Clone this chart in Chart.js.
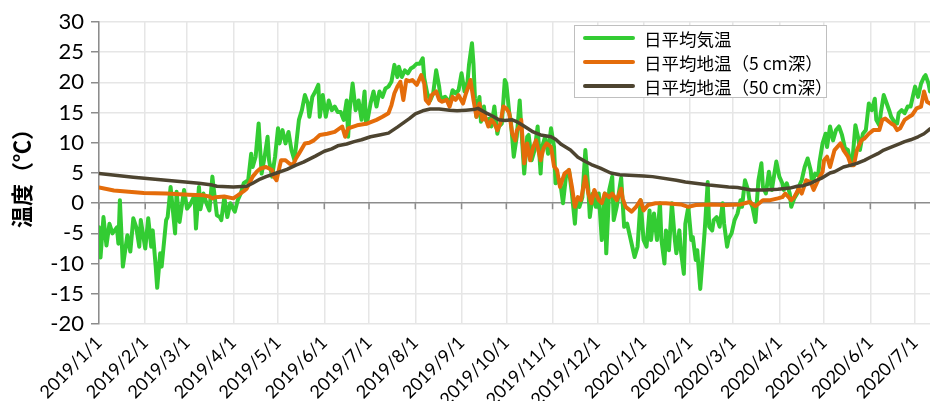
<!DOCTYPE html>
<html>
<head>
<meta charset="utf-8">
<script src="https://cdn.jsdelivr.net/npm/chart.js@4.4.1/dist/chart.umd.min.js"></script>
<style>
    html, body { margin: 0; padding: 0; background: #fff; }
    #wrap { position: relative; width: 931px; height: 401px; }
    #legend {
        position: absolute; left: 574px; top: 25px; width: 253px; height: 73px;
        box-sizing: border-box; border: 1.5px solid #bfbfbf; background: #fff;
        font-family: "Noto Sans CJK JP", sans-serif; font-size: 17.5px; color: #000;
    }
    .item { position: absolute; left: 8px; height: 24px; display: flex; align-items: center; white-space: nowrap; }
    .swatch { width: 52px; height: 4px; border-radius: 2px; margin-right: 9px; }
</style>
</head>
<body>
<div id="wrap">
    <canvas id="temp-chart" width="931" height="401"></canvas>
    <div id="legend"></div>
</div>
<script>
// x values are days counted from 2019/1/1
const airDays = [
    0, 1, 3, 5, 7, 9, 12, 13, 14, 16, 19, 21, 23, 25, 27, 28, 31, 33, 35, 36,
    38, 39, 41, 42, 45, 46, 48, 51, 52, 54, 57, 59, 61, 64, 65, 67, 68, 70, 72, 74,
    76, 77, 79, 81, 82, 84, 86, 88, 91, 93, 95, 97, 100, 102, 103, 105, 107, 109, 111, 113,
    114, 116, 118, 120, 121, 123, 125, 127, 129, 131, 132, 134, 136, 138, 140, 141, 143, 145, 147, 148,
    150, 152, 154, 156, 158, 160, 162, 164, 166, 167, 168, 170, 172, 174, 176, 178, 179, 180, 182, 184,
    186, 188, 190, 192, 194, 196, 198, 200, 201, 203, 205, 207, 209, 211, 213, 215, 217, 218, 220, 222,
    224, 226, 228, 229, 232, 234, 235, 237, 239, 241, 243, 245, 247, 248, 250, 251, 252, 253, 255, 256,
    258, 259, 262, 263, 265, 267, 268, 270, 272, 273, 275, 276, 278, 280, 282, 283, 285, 287, 288, 290,
    292, 294, 296, 297, 299, 301, 303, 305, 306, 309, 311, 313, 315, 317, 319, 320, 322, 324, 326, 328,
    329, 331, 333, 335, 337, 339, 340, 342, 344, 345, 347, 350, 352, 354, 356, 359, 361, 363, 365, 367,
    369, 370, 372, 374, 376, 377, 379, 380, 382, 384, 386, 387, 389, 390, 392, 393, 395, 397, 398, 400,
    401, 403, 405, 406, 408, 409, 411, 412, 414, 416, 418, 419, 421, 422, 424, 426, 428, 430, 431, 433,
    435, 436, 438, 440, 442, 444, 445, 447, 449, 451, 452, 454, 456, 458, 459, 461, 463, 464, 466, 468,
    469, 471, 473, 475, 477, 478, 480, 482, 483, 485, 487, 488, 490, 492, 494, 496, 498, 500, 502, 504,
    505, 507, 509, 510, 512, 514, 516, 518, 520, 521, 523, 524, 526, 528, 530, 531, 533, 535, 536, 538,
    540, 542, 544, 546, 547, 549, 551, 553, 554, 556, 557
];
const airTemp = [
    -4, -9, -2.3, -7, -3.4, -5, -4, -6.7, 0.5, -10.5, -5.3, -8, -2.5, -4, -7.2, -2.8, -7.5, -2.5, -7.2, -4.5,
    -10.5, -14, -8.3, -10.5, -2.8, -2.3, 2.7, -5, 1.9, -3.1, 2.2, -0.9, -0.3, 1.3, -4.2, 2.7, -1, 1.6, 0, -1.2,
    4.4, 2.2, -2, -2.3, -2.8, 1, -2.3, 0, -1.4, 0.5, 1.6, 3.3, 3.8, 8.2, 6, 7.7, 13.2, 4.9, 7.7, 11,
    7.1, 4.4, 7.7, 12.4, 9.9, 12.1, 9.9, 11.8, 8.8, 7.1, 9.3, 13.8, 15.4, 17.9, 16.5, 14.3, 17.6, 18.5, 19.6, 14.3,
    17.9, 14.3, 17, 15.4, 16, 15.1, 15.1, 13.8, 17, 11, 15.4, 19.8, 15.4, 17, 13.8, 18.5, 13.2, 13.8, 16.5, 18.5,
    16, 18.5, 17.6, 19, 19.3, 20.1, 22.9, 20.9, 22.6, 20.9, 22, 21.5, 22.3, 22.6, 23.1, 23.1, 24, 20.7, 18.2, 17,
    18.2, 22, 19.3, 17.3, 17.6, 17, 16.5, 18.7, 18.2, 18.7, 21.5, 18.5, 20.1, 22.9, 26.5, 23.1, 17.3, 14.3, 17.6, 13.5,
    16, 13.8, 14, 12.7, 16, 11.5, 12.7, 13.2, 20.4, 19.8, 14.9, 13.8, 7.7, 11, 17, 12.7, 4.9, 11, 11.3, 7.1,
    8.8, 12.7, 4.9, 9.3, 11, 8.2, 12.4, 9.3, 3.3, 3.8, 0, 4.4, 5.5, 1.6, -3.4, 0.5, -0.6, 1, 8.8, 2.2,
    -2.3, 1.6, -0.6, 1.6, -6.1, 1.6, -8.3, 2.2, 4.4, -2.8, -0.6, 4.2, -3.9, -3.4, -5.6, -8.9, -7.2, 0.5, -6.1, -7.2,
    -1.2, -6.1, -1.7, -6.1, 0, -6.1, -10, -4.5, -7.8, 0, -6.1, -8.3, -4.5, -7.8, -11.7, -3.4, -0.6, -6.1, -5.6, -9.4,
    -7.8, -14.2, -7.8, -4.5, 3.5, -3.9, -4.5, -2.8, -2.3, -3.9, 0, -3.4, -7.2, -5.9, -5, -2.8, -1.7, 0.5, -0.6, 3.8,
    2.2, 0.5, -0.6, -3.1, 3.8, 6.6, 2.7, 1.6, 5.2, 2.2, 3.8, 6.9, 4.4, 3.3, 2.2, 3.3, 1.6, -0.6, 0.8, 1.6,
    2.7, 3.8, 6, 7.4, 5.5, 3.3, 4.9, 4.6, 6.9, 9.9, 11.5, 9.3, 12.7, 10.4, 12.1, 12.7, 11.3, 9.1, 8.8, 6.3,
    7.1, 12.9, 10.7, 8.8, 11.5, 12.1, 16.5, 15.4, 17.3, 13.8, 12.9, 14.9, 17.9, 16.5, 15.1, 14.3, 13.5, 13.2, 14.9, 15.4,
    14.9, 16, 16, 18.2, 19.3, 17.6, 19.8, 20.9, 21.2, 19.8, 18.5
];

const soil5Days = [
    0, 10, 20, 30, 45, 60, 70, 74, 76, 78, 84, 90, 93, 97, 99, 103, 106, 108, 112, 116,
    117, 119, 122, 125, 128, 130, 132, 134, 138, 141, 144, 148, 153, 158, 163, 165, 167, 173, 180, 186,
    190, 194, 196, 198, 200, 202, 204, 206, 208, 210, 213, 216, 218, 219, 221, 223, 226, 228, 230, 233,
    235, 237, 239, 241, 244, 246, 248, 249, 251, 253, 255, 257, 258, 261, 263, 265, 267, 269, 271, 273,
    275, 277, 279, 280, 282, 283, 285, 287, 289, 291, 293, 296, 298, 300, 303, 305, 307, 309, 312, 315,
    317, 319, 321, 323, 326, 328, 330, 332, 335, 337, 339, 342, 344, 347, 350, 351, 353, 357, 360, 363,
    365, 368, 373, 380, 390, 395, 400, 410, 420, 430, 436, 440, 445, 450, 455, 458, 460, 464, 466, 469,
    471, 474, 477, 479, 482, 485, 486, 488, 490, 493, 497, 499, 502, 504, 506, 508, 511, 513, 516, 519,
    523, 525, 527, 531, 533, 535, 537, 540, 543, 545, 548, 551, 553, 555, 557
];
const soil5Temp = [
    2.6, 2.1, 1.9, 1.7, 1.6, 1.4, 1.3, 1.1, 0.8, 1.0, 1.1, 0.8, 1.3, 2.0, 2.4, 4.4, 5.3, 5.7, 6.0, 5.5,
    4.5, 3.8, 7.1, 7.1, 6.5, 6.3, 7.4, 8.2, 9.9, 10.0, 10.4, 11.3, 11.5, 11.8, 12.7, 11.0, 12.4, 12.9, 13.2, 13.8,
    14.3, 14.9, 16.2, 18.2, 19.3, 20.1, 17.1, 20.4, 20.2, 20.4, 19.6, 21.2, 19.8, 17.1, 16.5, 17.9, 18.5, 17.1, 16.8, 17.1,
    16.0, 17.6, 17.1, 17.9, 16.5, 18.2, 19.6, 20.4, 17.1, 14.3, 16.5, 13.8, 14.9, 12.7, 13.8, 13.2, 12.1, 13.2, 16.0, 15.7,
    14.9, 11.5, 10.4, 12.0, 12.7, 13.8, 6.6, 9.9, 7.1, 9.3, 10.4, 7.1, 9.1, 9.9, 9.3, 6.1, 5.5, 2.7, 4.9, 5.5,
    2.7, -0.6, 1.0, 0.5, 4.4, 1.6, 0.0, 2.2, 0.5, 0.0, 1.6, 1.0, 1.6, 0.5, 2.4, 0.8, -0.6, -1.4, -0.6, 0.5,
    -1.2, -0.3, 0, 0, -0.2, -0.6, -0.3, -0.2, -0.3, -0.2, 0.2, -0.5, 0.5, 0.5, 0.8, 1.0, 1.6, 0.5, 1.0, 2.4,
    1.6, 3.8, 3.5, 2.2, 3.8, 5.2, 7.1, 7.7, 6.0, 8.8, 9.9, 8.8, 7.7, 6.3, 6.3, 8.8, 10.4, 10.7, 11.5, 12.1,
    12.1, 13.8, 14.0, 13.2, 12.9, 12.1, 12.4, 13.8, 14.3, 14.6, 15.7, 16.0, 18.5, 16.8, 16.5
];

const soil50Days = [
    0, 23, 45, 67, 76, 79, 90, 99, 103, 108, 112, 119, 126, 132, 137, 141, 145, 151, 156, 160,
    166, 171, 176, 182, 188, 194, 200, 204, 208, 212, 217, 222, 228, 235, 240, 246, 251, 254, 259, 264,
    268, 272, 277, 280, 284, 291, 296, 303, 306, 310, 316, 321, 326, 330, 336, 343, 349, 365, 371, 387,
    393, 409, 422, 428, 437, 446, 455, 463, 468, 472, 477, 481, 484, 490, 493, 499, 504, 508, 513, 517,
    522, 526, 531, 536, 540, 544, 549, 553, 557
];
const soil50Temp = [
    4.9, 4.3, 3.8, 3.3, 3.0, 2.8, 2.7, 2.8, 3.3, 4.0, 4.4, 5.0, 5.6, 6.3, 6.8, 7.3, 7.8, 8.6, 9.0, 9.5,
    9.8, 10.2, 10.5, 11.0, 11.3, 11.6, 12.6, 13.3, 14.0, 14.8, 15.3, 15.6, 15.6, 15.4, 15.3, 15.4, 15.5, 15.7, 15.0, 14.4,
    13.8, 13.7, 13.8, 13.5, 12.9, 11.8, 11.3, 11.0, 10.6, 9.7, 8.8, 7.6, 6.9, 6.4, 5.8, 5.0, 4.7, 4.5, 4.4, 3.8,
    3.5, 3.0, 2.7, 2.6, 2.2, 2.2, 2.3, 2.5, 2.8, 2.9, 3.3, 3.8, 4.1, 5.0, 5.2, 6.0, 6.3, 6.6, 7.1, 7.6,
    8.2, 8.8, 9.3, 9.8, 10.2, 10.5, 11.0, 11.5, 12.3
];

const seriesNames = ['日平均気温', '日平均地温（5 cm深）', '日平均地温（50 cm深）'];
const seriesColors = ['#33CC33', '#E46C0A', '#4D4430'];

const tickLabels = [
    '2019/1/1', '2019/2/1', '2019/3/1', '2019/4/1', '2019/5/1', '2019/6/1', '2019/7/1',
    '2019/8/1', '2019/9/1', '2019/10/1', '2019/11/1', '2019/12/1', '2020/1/1', '2020/2/1',
    '2020/3/1', '2020/4/1', '2020/5/1', '2020/6/1', '2020/7/1'
];
const yTicks = [-20, -15, -10, -5, 0, 5, 10, 15, 20, 25, 30];
const lastDay = 557;

// ngày tính từ 2019/1/1 cho mỗi nhãn tháng
const monthDays = tickLabels.map(s => {
    const [yy, mm, dd] = s.split('/').map(Number);
    return Math.round((Date.UTC(yy, mm - 1, dd) - Date.UTC(2019, 0, 1)) / 86400000);
});

const toPoints = (xs, ys) => xs.map((x, i) => ({ x: x, y: ys[i] }));

// vạch chia nhỏ dưới trục 0
const zeroAxisTicks = {
    id: 'zeroAxisTicks',
    beforeDatasetsDraw(chart) {
        const { ctx, scales: { x, y } } = chart;
        const y0 = y.getPixelForValue(0);
        ctx.save();
        ctx.strokeStyle = '#8c8c8c';
        ctx.lineWidth = 1.5;
        monthDays.forEach(d => {
            const px = x.getPixelForValue(d);
            ctx.beginPath();
            ctx.moveTo(px, y0);
            ctx.lineTo(px, y0 + 6);
            ctx.stroke();
        });
        ctx.restore();
    }
};

function makeDataset(i, xs, ys, width, order) {
    return {
        label: seriesNames[i],
        data: toPoints(xs, ys),
        borderColor: seriesColors[i],
        backgroundColor: seriesColors[i],
        borderWidth: width,
        borderJoinStyle: 'round',
        borderCapStyle: 'round',
        pointRadius: 0,
        tension: 0,
        order: order
    };
}

const ctx = document.getElementById('temp-chart').getContext('2d');
new Chart(ctx, {
    type: 'line',
    data: {
        datasets: [
            makeDataset(0, airDays, airTemp, 4, 3),
            makeDataset(1, soil5Days, soil5Temp, 4, 2),
            makeDataset(2, soil50Days, soil50Temp, 3.5, 1)
        ]
    },
    options: {
        responsive: false,
        animation: false,
        layout: { padding: { left: 0, right: 1, top: 22, bottom: 0 } },
        plugins: { legend: { display: false }, tooltip: { enabled: false } },
        scales: {
            x: {
                type: 'linear',
                min: 0,
                max: lastDay,
                afterBuildTicks: s => { s.ticks = monthDays.map(v => ({ value: v })); },
                afterFit: s => { s.height = 77; s.paddingRight = 0; s.paddingLeft = 0; },
                grid: { color: '#e6e6e6', lineWidth: 1.5, drawTicks: false },
                border: { display: false },
                ticks: {
                    autoSkip: false, maxRotation: 45, minRotation: 45, padding: 8,
                    color: '#000', font: { family: 'Lato', size: 18 },
                    callback: v => tickLabels[monthDays.indexOf(v)]
                }
            },
            y: {
                min: -20,
                max: 30,
                afterBuildTicks: s => { s.ticks = yTicks.map(v => ({ value: v })); },
                afterFit: s => { s.width = 99; },
                grid: {
                    color: c => (c.tick && c.tick.value === 0) ? '#8c8c8c' : '#e6e6e6',
                    lineWidth: 1.5, tickLength: 8, tickColor: '#8c8c8c'
                },
                border: { color: '#8c8c8c', width: 1.5 },
                ticks: { padding: 7, color: '#000', font: { family: 'Lato', size: 22 } },
                title: {
                    display: true, text: '温度（℃）', color: '#000',
                    font: { family: 'Noto Sans CJK JP', size: 22, weight: 'bold' },
                    padding: { top: 8, bottom: 0 }
                }
            }
        }
    },
    plugins: [zeroAxisTicks]
});

// chú thích dạng HTML đặt trong vùng biểu đồ
const legendBox = document.getElementById('legend');
seriesNames.forEach((name, i) => {
    const item = document.createElement('div');
    item.className = 'item';
    item.style.top = (i * 24) + 'px';
    item.innerHTML = '<span class="swatch" style="background:' + seriesColors[i] + '"></span><span>' + name + '</span>';
    legendBox.appendChild(item);
});
</script>
</body>
</html>
